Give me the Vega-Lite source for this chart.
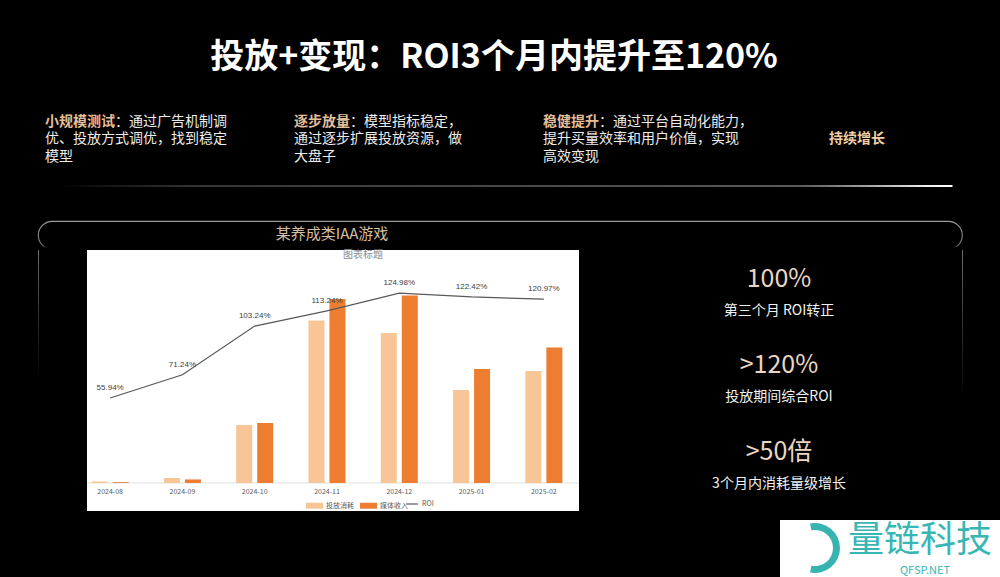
{
  "$schema": "https://vega.github.io/schema/vega-lite/v6.json",
  "background": "#000000",
  "padding": 0,
  "spacing": 0,
  "config": {"view": {"stroke": null}, "font": "Noto Sans CJK SC"},
  "resolve": {"scale": {"color": "independent", "stroke": "independent"}},
  "datasets": {
    "heading": [{"text": "投放+变现：ROI3个月内提升至120%"}],
    "blocks": [
      {"block": "b1", "line": 1, "kind": "head", "text": "小规模测试"},
      {"block": "b1", "line": 1, "kind": "rest", "text": "：通过广告机制调"},
      {"block": "b1", "line": 2, "kind": "body", "text": "优、投放方式调优，找到稳定"},
      {"block": "b1", "line": 3, "kind": "body", "text": "模型"},
      {"block": "b2", "line": 1, "kind": "head", "text": "逐步放量"},
      {"block": "b2", "line": 1, "kind": "rest", "text": "：模型指标稳定，"},
      {"block": "b2", "line": 2, "kind": "body", "text": "通过逐步扩展投放资源，做"},
      {"block": "b2", "line": 3, "kind": "body", "text": "大盘子"},
      {"block": "b3", "line": 1, "kind": "head", "text": "稳健提升"},
      {"block": "b3", "line": 1, "kind": "rest", "text": "：通过平台自动化能力，"},
      {"block": "b3", "line": 2, "kind": "body", "text": "提升买量效率和用户价值，实现"},
      {"block": "b3", "line": 3, "kind": "body", "text": "高效变现"},
      {"block": "b4", "line": 2, "kind": "goal", "text": "持续增长"}
    ],
    "bars": [
      {"month": "2024-08", "series": "投放消耗", "value": 1.5},
      {"month": "2024-08", "series": "媒体收入", "value": 0.84},
      {"month": "2024-09", "series": "投放消耗", "value": 5},
      {"month": "2024-09", "series": "媒体收入", "value": 3.56},
      {"month": "2024-10", "series": "投放消耗", "value": 58},
      {"month": "2024-10", "series": "媒体收入", "value": 59.9},
      {"month": "2024-11", "series": "投放消耗", "value": 162.5},
      {"month": "2024-11", "series": "媒体收入", "value": 184},
      {"month": "2024-12", "series": "投放消耗", "value": 150},
      {"month": "2024-12", "series": "媒体收入", "value": 187.5},
      {"month": "2025-01", "series": "投放消耗", "value": 93},
      {"month": "2025-01", "series": "媒体收入", "value": 113.9},
      {"month": "2025-02", "series": "投放消耗", "value": 112},
      {"month": "2025-02", "series": "媒体收入", "value": 135.5}
    ],
    "roi": [
      {"month": "2024-08", "roi": 0.5594},
      {"month": "2024-09", "roi": 0.7124},
      {"month": "2024-10", "roi": 1.0324},
      {"month": "2024-11", "roi": 1.1324},
      {"month": "2024-12", "roi": 1.2498},
      {"month": "2025-01", "roi": 1.2242},
      {"month": "2025-02", "roi": 1.2097}
    ],
    "stats": [
      {"group": 1, "big": "100%", "small": "第三个月 ROI转正"},
      {"group": 2, "big": ">120%", "small": "投放期间综合ROI"},
      {"group": 3, "big": ">50倍", "small": "3个月内消耗量级增长"}
    ],
    "panel": [{"text": "某养成类IAA游戏"}],
    "logo": [{"name": "量链科技", "site": "QFSP.NET"}]
  },
  "vconcat": [
    {
      "width": 1000, "height": 114,
      "data": {"name": "heading"},
      "mark": {"type": "text", "fontSize": 34, "fontWeight": "bold", "color": "#ffffff", "dx": -6, "dy": 1},
      "encoding": {"text": {"field": "text"}}
    },
    {
      "width": 1000, "height": 70,
      "data": {"name": "blocks"},
      "encoding": {
        "x": {"field": "block", "type": "nominal", "scale": {"type": "point", "domain": ["b1", "b2", "b3", "b4"], "padding": 0.508, "align": 0.178}, "axis": null},
        "y": {"field": "line", "type": "ordinal", "scale": {"type": "point", "domain": [1, 2, 3], "padding": 1.0588, "align": 0.1944}, "axis": null},
        "text": {"field": "text"}
      },
      "layer": [
        {"transform": [{"filter": "datum.kind === 'body'"}], "mark": {"type": "text", "align": "left", "fontSize": 14, "color": "#ececec"}},
        {"transform": [{"filter": "datum.kind === 'rest' && datum.block === 'b1'"}], "mark": {"type": "text", "align": "left", "fontSize": 14, "color": "#ececec", "dx": 70}},
        {"transform": [{"filter": "datum.kind === 'rest' && datum.block !== 'b1'"}], "mark": {"type": "text", "align": "left", "fontSize": 14, "color": "#ececec", "dx": 56}},
        {"transform": [{"filter": "datum.kind === 'head'"}], "mark": {"type": "text", "align": "left", "fontSize": 14, "fontWeight": "bold", "color": "#e2bf98"}},
        {"transform": [{"filter": "datum.kind === 'goal'"}], "mark": {"type": "text", "align": "left", "fontSize": 14, "fontWeight": "bold", "color": "#f0cfa6", "dx": 37}}
      ]
    },
    {
      "width": 1000, "height": 2,
      "view": {"fill": {"gradient": "linear", "x1": 0, "y1": 0, "x2": 1, "y2": 0, "stops": [
        {"offset": 0, "color": "rgba(255,255,255,0)"},
        {"offset": 0.06, "color": "rgba(255,255,255,0)"},
        {"offset": 0.2, "color": "rgba(210,210,210,0.25)"},
        {"offset": 0.8, "color": "rgba(225,225,225,0.4)"},
        {"offset": 0.93, "color": "rgba(255,255,255,0.95)"},
        {"offset": 0.952, "color": "rgba(255,255,255,1)"},
        {"offset": 0.953, "color": "rgba(255,255,255,0)"},
        {"offset": 1, "color": "rgba(255,255,255,0)"}
      ]}},
      "data": {"values": []},
      "mark": "text"
    },
    {
      "width": 10, "height": 33,
      "data": {"values": []},
      "mark": "text"
    },
    {
      "spacing": 0,
      "bounds": "flush",
      "hconcat": [
        {"width": 38, "height": 10, "data": {"values": []}, "mark": "text"},
        {
          "width": 924, "height": 28,
          "view": {
            "fill": null,
            "cornerRadius": 16,
            "strokeWidth": 1.2,
            "stroke": {"gradient": "linear", "x1": 0, "y1": 0, "x2": 0, "y2": 1, "stops": [
              {"offset": 0, "color": "#9a9a9a"},
              {"offset": 0.88, "color": "#6e6e6e"},
              {"offset": 0.95, "color": "rgba(100,100,100,0)"},
              {"offset": 1, "color": "rgba(100,100,100,0)"}
            ]}
          },
          "data": {"name": "panel"},
          "mark": {"type": "text", "fontSize": 15, "color": "#d8bea0", "dx": -168, "dy": -1},
          "encoding": {"text": {"field": "text"}}
        }
      ]
    },
    {
      "spacing": 0,
      "bounds": "flush",
      "resolve": {"scale": {"color": "independent", "stroke": "independent"}},
      "hconcat": [
        {"width": 38, "height": 10, "data": {"values": []}, "mark": "text"},
        {
          "width": 1, "height": 130,
          "view": {"fill": {"gradient": "linear", "x1": 0, "y1": 0, "x2": 0, "y2": 1, "stops": [
            {"offset": 0, "color": "#6e6e6e"},
            {"offset": 1, "color": "rgba(90,90,90,0)"}
          ]}},
          "data": {"values": []}, "mark": "text"
        },
        {"width": 48, "height": 10, "data": {"values": []}, "mark": "text"},
        {
          "width": 492, "height": 261,
          "view": {"fill": "#ffffff"},
          "title": {"text": "图表标题", "fontSize": 10, "fontWeight": "normal", "color": "#8c8c8c", "offset": -10, "dx": 30, "anchor": "middle"},
          "layer": [
            {
              "data": {"values": [{}]},
              "mark": {"type": "rule", "color": "#d9d9d9", "strokeWidth": 0.8},
              "encoding": {
                "y": {"datum": 0, "type": "quantitative", "scale": {"domain": [-28, 233], "nice": false, "zero": false}, "axis": null}
              }
            },
            {
              "data": {"name": "bars"},
              "mark": {"type": "bar"},
              "encoding": {
                "x": {"field": "month", "type": "nominal",
                  "scale": {"domain": ["2024-08", "2024-09", "2024-10", "2024-11", "2024-12", "2025-01", "2025-02"], "range": [-13, 493], "paddingInner": 0, "paddingOuter": 0},
                  "axis": {"title": null, "orient": "bottom", "offset": -26, "domain": false, "ticks": false, "grid": false, "labelAngle": 0, "labelFontSize": 7, "labelColor": "#595959", "labelPadding": 2}},
                "xOffset": {"field": "series", "type": "nominal", "scale": {"domain": ["投放消耗", "媒体收入"], "paddingInner": 0.238, "paddingOuter": 0.84}},
                "y": {"field": "value", "type": "quantitative", "scale": {"domain": [-28, 233], "nice": false, "zero": false}, "axis": null},
                "color": {"field": "series", "type": "nominal",
                  "scale": {"domain": ["投放消耗", "媒体收入"], "range": ["#F8C696", "#ED7D31"]},
                  "legend": {"title": null, "orient": "none", "legendX": 219, "legendY": 247, "direction": "horizontal", "symbolType": "M-1,-0.35H1V0.35H-1Z", "symbolSize": 289, "symbolStrokeWidth": 0, "labelFontSize": 7, "labelColor": "#595959", "labelOffset": 3, "columnPadding": 6, "padding": 0}}
              }
            },
            {
              "data": {"name": "roi"},
              "mark": {"type": "line", "strokeWidth": 1.2},
              "encoding": {
                "x": {"field": "month", "type": "nominal", "scale": {"domain": ["2024-08", "2024-09", "2024-10", "2024-11", "2024-12", "2025-01", "2025-02"], "range": [-13, 493], "paddingInner": 0, "paddingOuter": 0}},
                "y": {"field": "roi", "type": "quantitative", "scale": {"domain": [-0.184, 1.533], "nice": false, "zero": false}, "axis": null},
                "stroke": {"datum": "ROI", "type": "nominal", "scale": {"domain": ["ROI"], "range": ["#595959"]},
                  "legend": {"title": null, "orient": "none", "legendX": 318, "legendY": 247, "symbolType": "stroke", "symbolSize": 140, "symbolStrokeWidth": 1.2, "symbolStrokeColor": "#595959", "labelFontSize": 7, "labelColor": "#595959", "labelOffset": 3, "padding": 0}}
              }
            },
            {
              "data": {"name": "roi"},
              "mark": {"type": "text", "dy": -10, "fontSize": 8, "color": "#404040", "font": "Liberation Sans"},
              "encoding": {
                "x": {"field": "month", "type": "nominal", "scale": {"domain": ["2024-08", "2024-09", "2024-10", "2024-11", "2024-12", "2025-01", "2025-02"], "range": [-13, 493], "paddingInner": 0, "paddingOuter": 0}},
                "y": {"field": "roi", "type": "quantitative", "scale": {"domain": [-0.184, 1.533], "nice": false, "zero": false}, "axis": null},
                "text": {"field": "roi", "type": "quantitative", "format": ".2%"}
              }
            }
          ],
          "resolve": {"scale": {"y": "independent"}}
        },
        {
          "width": 383, "height": 270,
          "data": {"name": "stats"},
          "encoding": {
            "y": {"field": "group", "type": "ordinal", "scale": {"type": "point", "domain": [1, 2, 3], "padding": 0.561, "align": 0.299}, "axis": null}
          },
          "layer": [
            {"mark": {"type": "text", "fontSize": 25, "color": "#ead6c2", "dx": 8.5}, "encoding": {"text": {"field": "big"}}},
            {"mark": {"type": "text", "fontSize": 14, "color": "#f2f2f2", "dx": 8.5, "dy": 32}, "encoding": {"text": {"field": "small"}}}
          ]
        },
        {
          "width": 1, "height": 150,
          "view": {"fill": {"gradient": "linear", "x1": 0, "y1": 0, "x2": 0, "y2": 1, "stops": [
            {"offset": 0, "color": "#6e6e6e"},
            {"offset": 1, "color": "rgba(90,90,90,0)"}
          ]}},
          "data": {"values": []}, "mark": "text"
        }
      ]
    },
    {
      "spacing": 0,
      "bounds": "flush",
      "hconcat": [
        {"width": 780, "height": 10, "data": {"values": []}, "mark": "text"},
        {
          "width": 220, "height": 60,
          "view": {"fill": "#ffffff"},
          "data": {"name": "logo"},
          "layer": [
            {"mark": {"type": "arc", "innerRadius": 18, "outerRadius": 25, "theta": -0.2, "theta2": 3.34, "color": "#37b4b0", "xOffset": -75, "yOffset": -2}},
            {"mark": {"type": "text", "fontSize": 36, "color": "#37b6b3", "dx": 30, "dy": -9}, "encoding": {"text": {"field": "name"}}},
            {"mark": {"type": "text", "fontSize": 11, "color": "#37b6b3", "dx": 35, "dy": 21}, "encoding": {"text": {"field": "site"}}}
          ]
        }
      ]
    }
  ]
}
